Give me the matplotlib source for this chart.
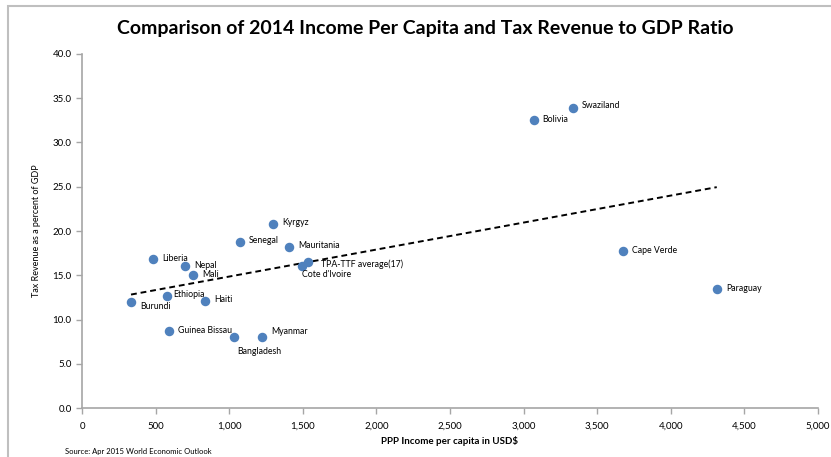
import matplotlib.pyplot as plt
import numpy as np
from matplotlib.patches import Rectangle

# data
countries = ['Swaziland', 'Bolivia', 'Cape Verde', 'Paraguay', 'Kyrgyz', 'Senegal',
             'Mauritania', 'Liberia', 'Nepal', 'Mali', 'TPA-TTF average(17)',
             "Cote d'Ivoire", 'Ethiopia', 'Burundi', 'Haiti', 'Guinea Bissau',
             'Bangladesh', 'Myanmar']
income = [3333, 3068, 3673, 4313, 1299, 1075, 1408, 483, 700, 755, 1537,
          1497, 578, 333, 837, 592, 1034, 1224]
tax = [33.9, 32.5, 17.7, 13.4, 20.8, 18.8, 18.2, 16.8, 16.0, 15.0, 16.5,
       16.0, 12.7, 12.0, 12.1, 8.7, 8.0, 8.0]

# label offsets in pixels (dx, dy)
offsets = {"Cote d'Ivoire": (0, -8), 'TPA-TTF average(17)': (13, -2),
           'Burundi': (9, -5), 'Bangladesh': (3, -14), 'Myanmar': (9, 6),
           'Ethiopia': (6, 1), 'Swaziland': (9, 2)}

plt.rcParams['font.family'] = ['Lato', 'DejaVu Sans']

fig = plt.figure(figsize=(8.31, 4.57), dpi=100)
ax = fig.add_axes([0.0987, 0.107, 0.8855, 0.775])

ax.scatter(income, tax, s=34, color='#4F81BD', zorder=3)

# linear trend
k, b = np.polyfit(income, tax, 1)
xs = np.array([min(income), max(income)])
ax.plot(xs, k * xs + b, color='black', ls=(0, (3, 2)), lw=1.4, zorder=2)

for name, x, y in zip(countries, income, tax):
    dx, dy = offsets.get(name, (9, 1))
    ax.annotate(name, (x, y), xytext=(dx, dy), textcoords='offset pixels',
                fontsize=6.3, ha='left', va='center', color='black')

ax.set_xlim(0, 5000)
ax.set_ylim(0, 40)
ax.set_xticks(np.arange(0, 5001, 500))
ax.set_yticks(np.arange(0, 40.1, 5))
ax.set_xticklabels([f'{v:,}' for v in range(0, 5001, 500)], fontsize=7)
ax.set_yticklabels([f'{v:.1f}' for v in np.arange(0, 40.1, 5)], fontsize=7)
ax.tick_params(axis='both', length=4, width=1, color='#A6A6A6')
ax.tick_params(axis='x', pad=6)
for s in ['top', 'right']:
    ax.spines[s].set_visible(False)
for s in ['left', 'bottom']:
    ax.spines[s].set_color('#A6A6A6')
    ax.spines[s].set_linewidth(1.2)

ax.set_xlabel('PPP Income per capita in USD$', fontsize=7, fontweight='bold')
ax.set_ylabel('Tax Revenue as a percent of GDP', fontsize=6.5, labelpad=8)
ax.xaxis.set_label_coords(0.5, -0.078)

fig.text(0.512, 0.938, 'Comparison of 2014 Income Per Capita and Tax Revenue to GDP Ratio',
         ha='center', va='center', fontsize=14, fontweight='bold')
fig.text(0.078, 0.013, 'Source: Apr 2015 World Economic Outlook', fontsize=5.5,
         ha='left', va='center')

# chart border
fig.patches.append(Rectangle((8 / 831, -0.05), 1.0, 1.0 - 6 / 457 + 0.05,
                             transform=fig.transFigure, fill=False,
                             edgecolor='#BFBFBF', lw=1.5))

fig.savefig('out.png', dpi=100)
